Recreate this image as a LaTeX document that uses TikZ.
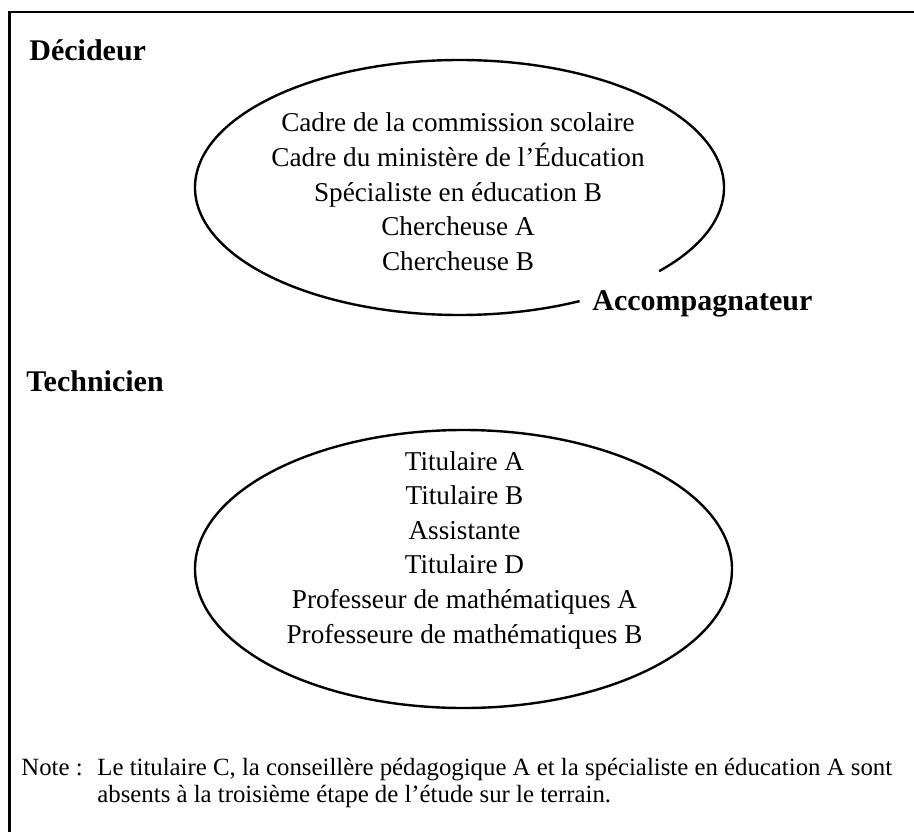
\documentclass[tikz,border=0pt]{standalone}
\usepackage{fontspec}
\setmainfont{Liberation Serif}
\begin{document}
\begin{tikzpicture}[x=0.5pt,y=0.5pt,
  frame/.style={line width=1.35pt, line join=miter},
  ell/.style={line width=1.2pt},
  lbl/.style={inner sep=0pt, anchor=base west, font=\fontsize{15}{18}\selectfont\bfseries},
  member/.style={inner sep=0pt, anchor=base, font=\fontsize{13.6}{17.3}\selectfont},
  notetext/.style={inner sep=0pt, anchor=base west, font=\fontsize{12.4}{13.5}\selectfont}]
\useasboundingbox (0,0) rectangle (914,832);
% frame (top and left sides)
\coordinate (ftr) at (914,820);
\coordinate (ftl) at (9.5,820);
\coordinate (fbl) at (9.5,0);
\draw[frame] (ftr) -- (ftl) -- (fbl);
% ellipse 1 (with gap)
\coordinate (e1c) at (459.5,644.5);
\draw[ell] ([shift={(-41:264.5 and 127.5)}]e1c) arc[start angle=-41, end angle=297, x radius=264.5, y radius=127.5];
% ellipse 2
\coordinate (e2c) at (463.5,263);
\draw[ell] (e2c) ellipse [x radius=268.5, y radius=139];
% labels
\node[lbl] (decideur) at (29,771) {Décideur};
\node[lbl] (technicien) at (26,441) {Technicien};
\node[lbl] (accomp) at (592,522) {Accompagnateur};
% members
\node[member] (grp1) at (458,700) {\begin{tabular}[t]{@{}c@{}}Cadre de la commission scolaire\\Cadre du ministère de l’Éducation\\Spécialiste en éducation B\\Chercheuse A\\Chercheuse B\end{tabular}};
\node[member] (grp2) at (464.5,362) {\begin{tabular}[t]{@{}c@{}}Titulaire A\\Titulaire B\\Assistante\\Titulaire D\\Professeur de mathématiques A\\Professeure de mathématiques B\end{tabular}};
% note
\node[notetext] (note) at (21,57) {\begin{tabular}[t]{@{}l@{}l@{}}\makebox[38pt][l]{Note :}&Le titulaire C, la conseillère pédagogique A et la spécialiste en éducation A sont\\&absents à la troisième étape de l’étude sur le terrain.\end{tabular}};
\end{tikzpicture}
\end{document}
